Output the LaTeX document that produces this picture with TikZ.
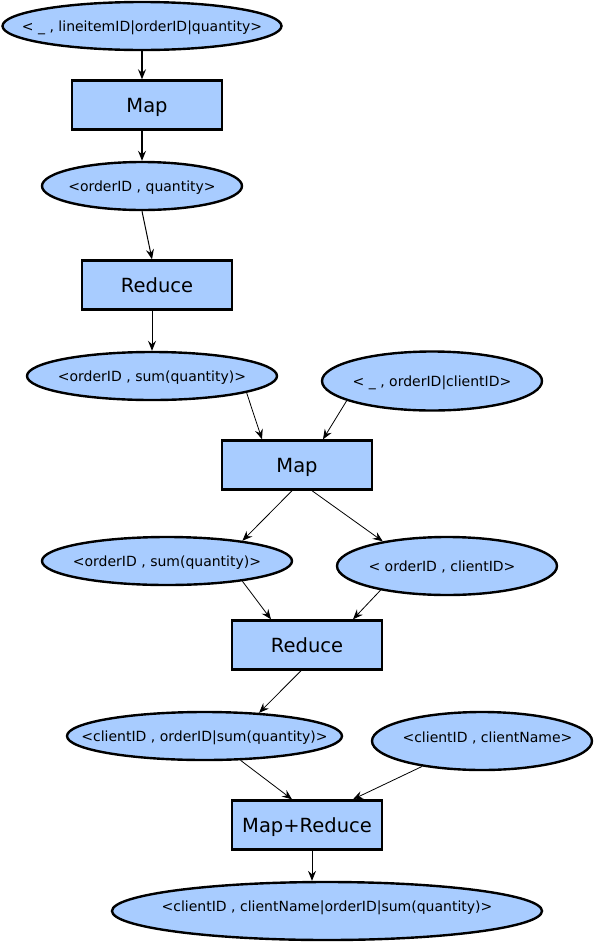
\documentclass[tikz,border=0pt]{standalone}
\usepackage{fontspec}
\setmainfont{DejaVu Sans}
\usetikzlibrary{shapes.geometric,arrows.meta}
\definecolor{stageblue}{HTML}{A8CCFF}
% keep the text from widening the ellipse
\newcommand{\pairtext}[1]{\makebox[0pt]{#1}}

\begin{document}
\begin{tikzpicture}[x=1pt,y=-1pt,
    pair/.style={ellipse,draw=black,line width=2.4pt,fill=stageblue,inner sep=0pt,
                 text height=10.2pt,text depth=0pt,font=\fontsize{14}{16}\selectfont},
    stage/.style={rectangle,draw=black,line width=2.4pt,fill=stageblue,inner sep=0pt,
                  minimum width=150,minimum height=49,text height=14.2pt,text depth=0pt,
                  font=\fontsize{19.5}{22}\selectfont},
    flow/.style={-{Stealth[length=10pt,width=8pt,inset=3.5pt]},line width=0.8pt}]
  \useasboundingbox (0,0) rectangle (594,943);

% first job: line items
  \node[pair,minimum width=279,minimum height=48] (lineitems) at (142,26) {\pairtext{< \_ , lineitemID|orderID|quantity>}};
  \node[stage] (mapone) at (147,105) {Map};
  \node[pair,minimum width=200,minimum height=48] (qty) at (142,186) {\pairtext{<orderID , quantity>}};
  \node[stage] (redone) at (157,285) {Reduce};
  \node[pair,minimum width=250,minimum height=48] (sumqty) at (152,376) {\pairtext{<orderID , sum(quantity)>}};

% second job: join with orders
  \node[pair,minimum width=220,minimum height=59] (orders) at (432,381) {\pairtext{< \_ , orderID|clientID>}};
  \node[stage] (maptwo) at (297,465) {Map};
  \node[pair,minimum width=250,minimum height=48] (sumqtytwo) at (167,561) {\pairtext{<orderID , sum(quantity)>}};
  \node[pair,minimum width=220,minimum height=58] (client) at (447,566) {\pairtext{\hspace*{-10pt}< orderID , clientID>}};
  \node[stage] (redtwo) at (307,645) {Reduce};
  \node[pair,minimum width=275,minimum height=48] (clientsum) at (204.5,736) {\pairtext{<clientID , orderID|sum(quantity)>}};

% third job: join with clients
  \node[pair,minimum width=220,minimum height=58] (names) at (482,741) {\pairtext{\hspace*{11pt}\raisebox{4pt}{<clientID , clientName>}}};
  \node[stage] (mapred) at (307,825) {Map+Reduce};
  \node[pair,minimum width=430,minimum height=58] (result) at (327,911) {\pairtext{\raisebox{5pt}{<clientID , clientName|orderID|sum(quantity)>}}};

% connectors
  \draw[flow,line width=1.2pt] (lineitems.south) -- (lineitems.south |- mapone.north);
  \draw[flow,line width=1.2pt] (mapone.south -| qty.north) -- (qty.north);
  \draw[flow,line width=1pt] (qty.south) -- ([xshift=-5]redone.north);
  \draw[flow,line width=1pt] ([xshift=-5]redone.south) -- (sumqty.north);
  \draw[flow] (sumqty.-10) -- ([xshift=-35]maptwo.north);
  \draw[flow] (orders.193) -- ([xshift=26]maptwo.north);
  \draw[flow] ([xshift=-5]maptwo.south) -- (sumqtytwo.15);
  \draw[flow] ([xshift=15]maptwo.south) -- (client.159);
  \draw[flow] (sumqtytwo.-15) -- ([xshift=-36]redtwo.north);
  \draw[flow] (client.200) -- ([xshift=46]redtwo.north);
  \draw[flow] ([xshift=-6]redtwo.south) -- (clientsum.23);
  \draw[flow] (clientsum.-34) -- ([xshift=-15]mapred.north);
  \draw[flow] (names.203) -- ([xshift=46]mapred.north);
  \draw[flow] ([xshift=5]mapred.south) -- ([xshift=-15]result.north);
\end{tikzpicture}
\end{document}
